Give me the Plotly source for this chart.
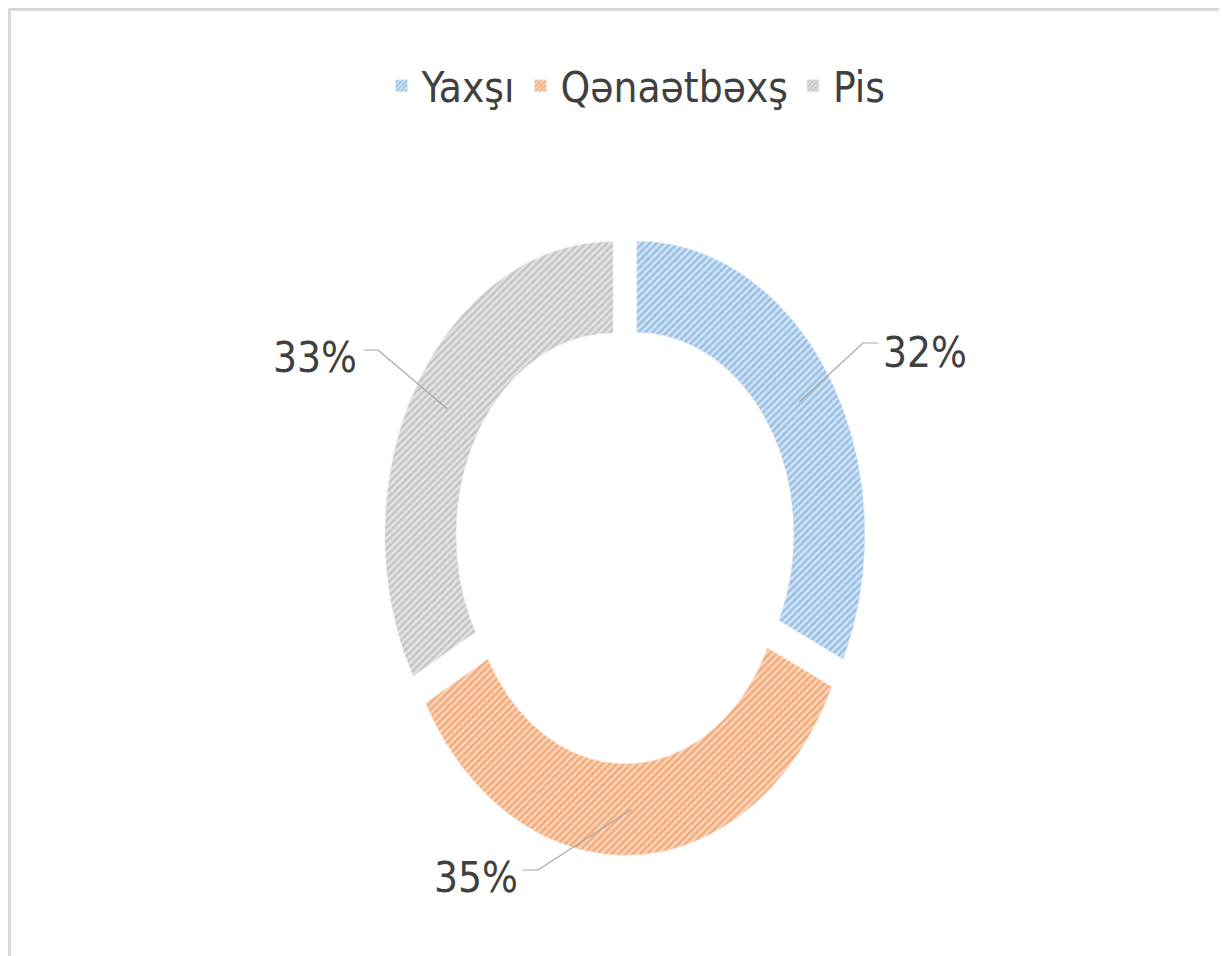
import numpy as np
import plotly.graph_objects as go

# data
labels = ["Yaxşı", "Qənaətbəxş", "Pis"]
values = [32, 35, 33]
colors = ["#5B9BD5", "#ED7D31", "#A5A5A5"]
tints = ["#d3e4f5", "#fbd6bd", "#e3e3e3"]

# geometry (axis units = screen pixels, y pointing down; page body adds an 8px offset)
W, H = 1227, 956
off = 8
cx, cy = 625, 544
r_out, r_in = 228, 157
explode = 14
ystretch = 1.286
font = "Liberation Sans Narrow, DejaVu Sans Condensed, Open Sans, sans-serif"
txt_color = "#404040"

# label text centres, elbow of the leader line, and leader end x
label_pos = [(925, 352), (476, 877), (315, 357)]
elbow_pos = [(863, 343, 878), (538, 870, 523), (378, 350, 364)]


def to_xy(rad, ang):
    return cx + rad * np.sin(ang), cy - ystretch * rad * np.cos(ang)


fig = go.Figure()

total = sum(values)
start = 0.0
for i, (lab, v) in enumerate(zip(labels, values)):
    a0 = start / total * 2 * np.pi
    a1 = (start + v) / total * 2 * np.pi
    mid = (a0 + a1) / 2
    start += v
    t = np.linspace(a0, a1, 150)
    ang = np.concatenate([t, t[::-1], t[:1]])
    rad = np.concatenate([np.full(t.size, r_out), np.full(t.size, r_in), [r_out]])
    x = cx + rad * np.sin(ang) + explode * np.sin(mid)
    y = cy - ystretch * (rad * np.cos(ang) + explode * np.cos(mid))
    fig.add_trace(go.Scatter(
        x=x, y=y, mode="lines", fill="toself",
        line=dict(width=0.6, color=tints[i]),
        fillcolor=tints[i],
        fillpattern=dict(shape="/", fgcolor=colors[i], bgcolor=tints[i],
                         size=5, solidity=0.5),
        showlegend=False, hoverinfo="skip",
    ))

    # leader line + percentage label
    px, py = to_xy((r_out + r_in) / 2 + explode, mid)
    ex, ey, endx = elbow_pos[i]
    fig.add_trace(go.Scatter(
        x=[px, ex, endx], y=[py, ey, ey], mode="lines",
        line=dict(color="#a6a6a6", width=1.2),
        showlegend=False, hoverinfo="skip",
    ))
    lx, ly = label_pos[i]
    fig.add_annotation(
        x=lx, y=ly, xref="x", yref="y", showarrow=False,
        text=f"{round(v / total * 100)}%",
        font=dict(size=42, color=txt_color, family=font),
    )

# legend entries
for i, lab in enumerate(labels):
    fig.add_trace(go.Bar(
        x=[None], y=[None], name=lab,
        marker=dict(color=tints[i],
                    pattern=dict(shape="/", fgcolor=colors[i], bgcolor=tints[i],
                                 size=4, solidity=0.5)),
    ))

# outer frame
fig.add_shape(type="rect", xref="x", yref="y", x0=9.5, y0=9.5, x1=W + 40, y1=H + 40,
              line=dict(color="#d9d9d9", width=3), fillcolor="rgba(0,0,0,0)")

fig.update_layout(
    width=W, height=H,
    margin=dict(l=0, r=0, t=0, b=0),
    paper_bgcolor="white", plot_bgcolor="white",
    xaxis=dict(range=[off, W + off], visible=False, fixedrange=True),
    yaxis=dict(range=[H + off, off], visible=False, fixedrange=True),
    legend=dict(orientation="h", x=(636 - off) / W, xanchor="center",
                y=1 - (86 - off) / H, yanchor="middle",
                font=dict(size=42, color=txt_color, family=font),
                itemwidth=30, bgcolor="rgba(0,0,0,0)"),
    font=dict(family=font),
)

fig.write_html("out.html")
